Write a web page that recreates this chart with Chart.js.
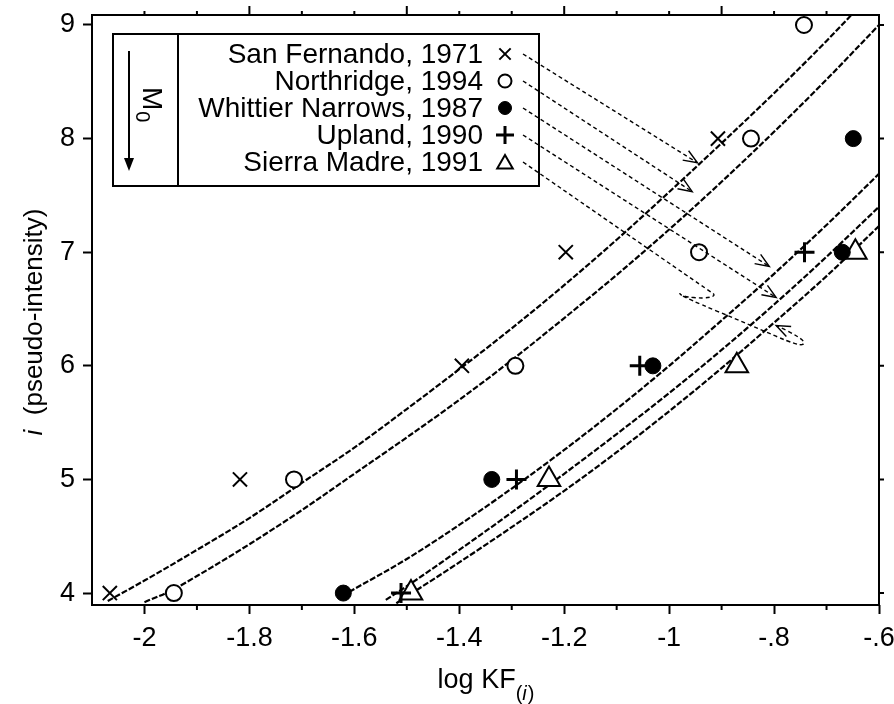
<!DOCTYPE html>
<html>
<head>
<meta charset="utf-8">
<script src="https://cdn.jsdelivr.net/npm/chart.js@4.4.0/dist/chart.umd.min.js"></script>
<style>
  html, body { margin: 0; padding: 0; background: #fff; }
</style>
</head>
<body>
<canvas id="c" width="894" height="704"></canvas>
<script>
// axis ranges and ticks
const xMin = -2.1, xMax = -0.6;
const yMin = 3.895, yMax = 9.088;
const xTickValues = [-2, -1.8, -1.6, -1.4, -1.2, -1, -0.8, -0.6];
const xTickLabels = ['-2', '-1.8', '-1.6', '-1.4', '-1.2', '-1', '-.8', '-.6'];
const yTickValues = [4, 5, 6, 7, 8, 9];

// observed points: log KF(i) for each intensity
const sanFernandoI = [4, 5, 6, 7, 8];
const sanFernandoKF = [-2.066, -1.818, -1.395, -1.197, -0.907];
const northridgeI = [4, 5, 6, 7, 8, 9];
const northridgeKF = [-1.944, -1.715, -1.293, -0.943, -0.844, -0.743];
const whittierI = [4, 5, 6, 7, 8];
const whittierKF = [-1.621, -1.338, -1.031, -0.670, -0.649];
const uplandI = [4, 5, 6, 7];
const uplandKF = [-1.511, -1.291, -1.056, -0.742];
const sierraI = [4, 5, 6, 7];
const sierraKF = [-1.492, -1.229, -0.871, -0.645];

// fitted curves
const curveSF_x = [-2.07, -2.0, -1.9, -1.8, -1.7, -1.6, -1.5, -1.4, -1.3, -1.2, -1.1, -1.0, -0.9, -0.8, -0.7, -0.64];
const curveSF_y = [3.93, 4.11, 4.38, 4.66, 4.97, 5.28, 5.62, 5.97, 6.33, 6.71, 7.11, 7.53, 7.96, 8.40, 8.86, 9.15];
const curveNR_x = [-2.0, -1.95, -1.9, -1.8, -1.7, -1.6, -1.5, -1.4, -1.3, -1.2, -1.1, -1.0, -0.9, -0.8, -0.7, -0.6];
const curveNR_y = [3.92, 4.02, 4.15, 4.43, 4.73, 5.05, 5.37, 5.70, 6.05, 6.42, 6.80, 7.20, 7.62, 8.06, 8.52, 9.00];
const curveWN_x = [-1.61, -1.5, -1.4, -1.3, -1.2, -1.1, -1.0, -0.9, -0.8, -0.7, -0.6];
const curveWN_y = [4.01, 4.30, 4.60, 4.92, 5.26, 5.62, 6.00, 6.40, 6.81, 7.24, 7.69];
const curveUP_x = [-1.54, -1.5, -1.4, -1.3, -1.2, -1.1, -1.0, -0.9, -0.8, -0.7, -0.6];
const curveUP_y = [3.94, 4.06, 4.38, 4.71, 5.05, 5.40, 5.76, 6.14, 6.54, 6.96, 7.40];
const curveSM_x = [-1.52, -1.5, -1.4, -1.3, -1.2, -1.1, -1.0, -0.9, -0.8, -0.7, -0.6];
const curveSM_y = [3.91, 3.97, 4.27, 4.58, 4.90, 5.24, 5.60, 5.98, 6.38, 6.79, 7.23];

const legendNames = ['San Fernando, 1971', 'Northridge, 1994', 'Whittier Narrows, 1987', 'Upland, 1990', 'Sierra Madre, 1991'];

// where the dashed arrows from the legend land (data coords)
const arrowTips = [[-0.946, 7.787], [-0.956, 7.533], [-0.809, 6.874], [-0.796, 6.601], [-0.796, 6.355]];
// the looping detour of the Sierra Madre arrow
const sierraDetour = [[-0.925, 6.663], [-0.910, 6.619], [-0.933, 6.592], [-0.974, 6.610], [-0.982, 6.645],
  [-0.971, 6.601], [-0.843, 6.355], [-0.752, 6.171], [-0.739, 6.206], [-0.764, 6.285]];

const FONT = '"Liberation Sans", Arial, sans-serif';

function pts(xs, ys) {
  return xs.map((v, k) => ({x: v, y: ys[k]}));
}

const markerSets = [
  {data: pts(sanFernandoKF, sanFernandoI), pointStyle: 'crossRot', pointRadius: 10, borderWidth: 2, backgroundColor: '#000'},
  {data: pts(northridgeKF, northridgeI), pointStyle: 'circle', pointRadius: 8, borderWidth: 2, backgroundColor: '#fff'},
  {data: pts(whittierKF, whittierI), pointStyle: 'circle', pointRadius: 8, borderWidth: 1, backgroundColor: '#000'},
  {data: pts(uplandKF, uplandI), pointStyle: 'cross', pointRadius: 10, borderWidth: 3, backgroundColor: '#000'},
  {data: pts(sierraKF, sierraI), pointStyle: 'triangle', pointRadius: 13, borderWidth: 2, backgroundColor: '#fff'}
].map(d => Object.assign(d, {borderColor: '#000', showLine: false, clip: false}));

const curveSets = [
  pts(curveSF_x, curveSF_y), pts(curveNR_x, curveNR_y), pts(curveWN_x, curveWN_y),
  pts(curveUP_x, curveUP_y), pts(curveSM_x, curveSM_y)
].map(d => ({
  data: d, showLine: true, pointRadius: 0, borderColor: '#000', borderWidth: 2.2,
  borderDash: [6, 2], cubicInterpolationMode: 'monotone', fill: false
}));

function drawMarker(ctx, style, x, y, r) {
  ctx.beginPath();
  if (style === 'crossRot') {
    const o = r * Math.SQRT1_2;
    ctx.moveTo(x - o, y - o); ctx.lineTo(x + o, y + o);
    ctx.moveTo(x - o, y + o); ctx.lineTo(x + o, y - o);
    ctx.stroke();
  } else if (style === 'cross') {
    ctx.moveTo(x - r, y); ctx.lineTo(x + r, y);
    ctx.moveTo(x, y - r); ctx.lineTo(x, y + r);
    ctx.stroke();
  } else if (style === 'triangle') {
    ctx.moveTo(x, y - r);
    ctx.lineTo(x + r * 0.866, y + r / 2);
    ctx.lineTo(x - r * 0.866, y + r / 2);
    ctx.closePath();
    ctx.fill(); ctx.stroke();
  } else {
    ctx.arc(x, y, r, 0, Math.PI * 2);
    ctx.fill(); ctx.stroke();
  }
}

function smoothPath(ctx, p) {
  ctx.beginPath();
  ctx.moveTo(p[0][0], p[0][1]);
  for (let k = 1; k < p.length - 1; k++) {
    const mx = (p[k][0] + p[k + 1][0]) / 2, my = (p[k][1] + p[k + 1][1]) / 2;
    ctx.quadraticCurveTo(p[k][0], p[k][1], mx, my);
  }
  ctx.lineTo(p[p.length - 1][0], p[p.length - 1][1]);
  ctx.stroke();
}

// frame, extra tick marks, legend box, arrows, axis titles
const decorations = {
  id: 'decorations',
  afterDraw(chart) {
    const {ctx, chartArea: a, scales: {x, y}} = chart;
    ctx.save();
    ctx.strokeStyle = '#000';
    ctx.fillStyle = '#000';

    // plot frame
    ctx.lineWidth = 2;
    ctx.strokeRect(a.left, a.top, a.right - a.left, a.bottom - a.top);

    // minor ticks bottom, ticks on top and right
    ctx.beginPath();
    for (let k = 1; k < 15; k++) {
      const v = xMin + k * 0.1;
      const px = x.getPixelForValue(v);
      if (k % 2 === 0) {
        ctx.moveTo(px, a.bottom); ctx.lineTo(px, a.bottom + 5);
      }
      const len = (k % 3 === 0) ? 9 : 4;
      ctx.moveTo(px, a.top); ctx.lineTo(px, a.top - len);
    }
    yTickValues.forEach(v => {
      const py = y.getPixelForValue(v);
      ctx.moveTo(a.right, py); ctx.lineTo(a.right + 5, py);
    });
    ctx.stroke();

    // legend box
    const L = a.left + 21, T = a.top + 19, W = 426, H = 152;
    ctx.strokeRect(L, T, W, H);
    ctx.beginPath();
    ctx.moveTo(L + 65, T); ctx.lineTo(L + 65, T + H);
    ctx.stroke();

    // M0 with downward arrow
    ctx.beginPath();
    ctx.moveTo(L + 16, T + 17); ctx.lineTo(L + 16, T + 126);
    ctx.stroke();
    ctx.beginPath();
    ctx.moveTo(L + 11, T + 124); ctx.lineTo(L + 21, T + 124); ctx.lineTo(L + 16, T + 137);
    ctx.closePath(); ctx.fill();

    ctx.save();
    ctx.translate(L + 38, T + 53);
    ctx.rotate(Math.PI / 2);
    ctx.font = '28px ' + FONT;
    ctx.textBaseline = 'middle';
    ctx.textAlign = 'left';
    ctx.fillText('M', 0, 0);
    const mw = ctx.measureText('M').width;
    ctx.font = '20px ' + FONT;
    ctx.fillText('0', mw + 1, 9);
    ctx.restore();

    // legend rows
    const styles = ['crossRot', 'circle', 'circle', 'cross', 'triangle'];
    const radii = [8, 6.5, 6.5, 9, 9];
    const fills = ['#000', '#fff', '#000', '#000', '#fff'];
    const widths = [2, 2, 1, 3, 2];
    ctx.font = '28px ' + FONT;
    ctx.textAlign = 'right';
    ctx.textBaseline = 'middle';
    const starts = [];
    legendNames.forEach((name, k) => {
      const ry = T + 20 + k * 27;
      ctx.fillStyle = '#000';
      ctx.fillText(name, L + 370, ry + 1);
      ctx.fillStyle = fills[k];
      ctx.lineWidth = widths[k];
      drawMarker(ctx, styles[k], L + 392, ry + (k === 4 ? 2 : 0), radii[k]);
      starts.push([L + 410, ry]);
    });

    // dashed arrows from the legend to the curves
    ctx.lineWidth = 1.4;
    arrowTips.forEach((tip, k) => {
      const path = [starts[k]];
      if (k === 4) {
        sierraDetour.forEach(q => path.push([x.getPixelForValue(q[0]), y.getPixelForValue(q[1])]));
      }
      const tx = x.getPixelForValue(tip[0]), ty = y.getPixelForValue(tip[1]);
      path.push([tx, ty]);
      ctx.setLineDash([4, 3]);
      smoothPath(ctx, path);
      ctx.setLineDash([]);
      const prev = path[path.length - 2];
      const ang = Math.atan2(ty - prev[1], tx - prev[0]);
      ctx.beginPath();
      ctx.moveTo(tx - 15 * Math.cos(ang - 0.38), ty - 15 * Math.sin(ang - 0.38));
      ctx.lineTo(tx, ty);
      ctx.lineTo(tx - 15 * Math.cos(ang + 0.38), ty - 15 * Math.sin(ang + 0.38));
      ctx.stroke();
    });

    // axis titles
    ctx.fillStyle = '#000';
    ctx.textAlign = 'left';
    ctx.textBaseline = 'alphabetic';
    ctx.save();
    ctx.translate(42, (a.top + a.bottom) / 2 + 12);
    ctx.rotate(-Math.PI / 2);
    ctx.font = 'italic 26px ' + FONT;
    const iw = ctx.measureText('i').width;
    ctx.font = '26px ' + FONT;
    const rest = '  (pseudo-intensity)';
    const rw = ctx.measureText(rest).width;
    const sx = -(iw + rw) / 2;
    ctx.font = 'italic 26px ' + FONT;
    ctx.fillText('i', sx, 0);
    ctx.font = '26px ' + FONT;
    ctx.fillText(rest, sx + iw, 0);
    ctx.restore();

    const cx = (a.left + a.right) / 2;
    ctx.font = '27px ' + FONT;
    const w1 = ctx.measureText('log KF').width;
    ctx.font = '20px ' + FONT;
    const wp = ctx.measureText('(').width, wq = ctx.measureText(')').width;
    ctx.font = 'italic 20px ' + FONT;
    const wi = ctx.measureText('i').width;
    let bx = cx - (w1 + wp + wi + wq) / 2;
    ctx.font = '27px ' + FONT;
    ctx.fillText('log KF', bx, 688);
    bx += w1;
    ctx.font = '20px ' + FONT;
    ctx.fillText('(', bx, 700);
    ctx.font = 'italic 20px ' + FONT;
    ctx.fillText('i', bx + wp, 700);
    ctx.font = '20px ' + FONT;
    ctx.fillText(')', bx + wp + wi + 1, 700);

    ctx.restore();
  }
};

new Chart(document.getElementById('c'), {
  type: 'scatter',
  data: {datasets: markerSets.concat(curveSets)},
  options: {
    responsive: false,
    animation: false,
    events: [],
    layout: {padding: {top: 14, right: 5, left: 0, bottom: 0}},
    plugins: {legend: {display: false}, tooltip: {enabled: false}},
    scales: {
      x: {
        type: 'linear', min: xMin, max: xMax,
        border: {display: false},
        grid: {drawOnChartArea: false, tickLength: 9, tickWidth: 2, tickColor: '#000'},
        ticks: {
          color: '#000', font: {family: FONT, size: 27}, padding: 8, maxRotation: 0, autoSkip: false,
          callback: (v, idx) => xTickLabels[idx]
        },
        afterBuildTicks: s => { s.ticks = xTickValues.map(v => ({value: v})); },
        afterFit: s => { s.height = 99; s.paddingLeft = 0; s.paddingRight = 0; }
      },
      y: {
        type: 'linear', min: yMin, max: yMax,
        border: {display: false},
        grid: {drawOnChartArea: false, tickLength: 9, tickWidth: 2, tickColor: '#000'},
        ticks: {color: '#000', font: {family: FONT, size: 27}, padding: 8},
        afterBuildTicks: s => { s.ticks = yTickValues.map(v => ({value: v})); },
        afterFit: s => { s.width = 92; s.paddingTop = 0; s.paddingBottom = 0; }
      }
    }
  },
  plugins: [decorations]
});
</script>
</body>
</html>
